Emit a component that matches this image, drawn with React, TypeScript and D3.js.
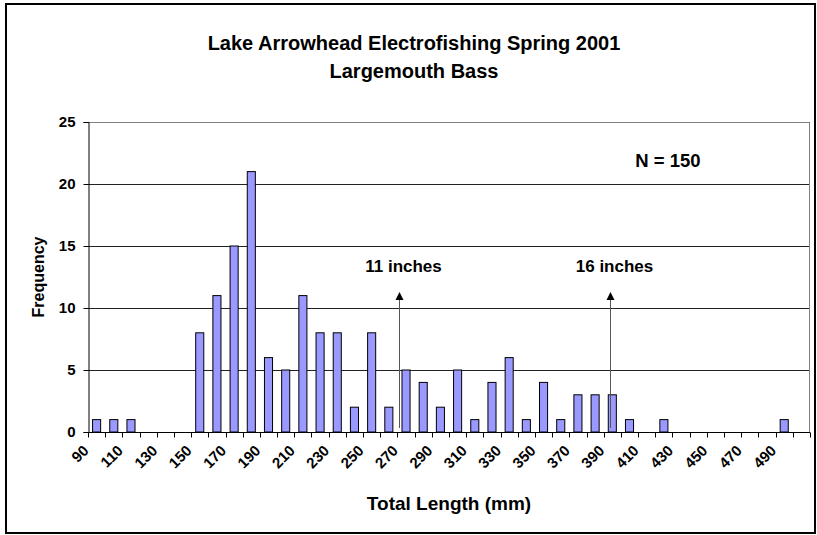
import React, { useRef, useEffect } from 'react';
import * as d3 from 'd3';

// histogram bins (mm) and counts
const lengths = [
  90, 100, 110, 120, 130, 140, 150, 160, 170, 180, 190, 200, 210, 220,
  230, 240, 250, 260, 270, 280, 290, 300, 310, 320, 330, 340, 350, 360,
  370, 380, 390, 400, 410, 420, 430, 440, 450, 460, 470, 480, 490, 500,
];
const counts = [
  1, 1, 1, 0, 0, 0, 8, 11, 15, 21, 6, 5, 11, 8,
  8, 2, 8, 2, 5, 4, 2, 5, 1, 4, 6, 1, 4, 1,
  3, 3, 3, 1, 0, 1, 0, 0, 0, 0, 0, 0, 1, 0,
];
const yTicks = [0, 5, 10, 15, 20, 25];
const markerLabels = ['11 inches', '16 inches'];
const markerMm = [271, 393.5];

const W = 817;
const H = 535;
const FONT = 'Liberation Sans, Arial, sans-serif';

const App = () => {
  const ref = useRef<SVGSVGElement>(null);

  useEffect(() => {
    const svg = d3.select(ref.current);
    svg.selectAll('*').remove();

    const margin = { top: 122, right: 7, bottom: 103, left: 88 };
    const x0 = margin.left;
    const x1 = W - margin.right;
    const y0 = H - margin.bottom;
    const y1 = margin.top;

    // chart frame
    svg.append('rect')
      .attr('x', 6).attr('y', 4)
      .attr('width', 809).attr('height', 529)
      .attr('fill', '#fff').attr('stroke', '#000').attr('stroke-width', 2);

    const xScale = d3.scaleBand<number>().domain(lengths).range([x0, x1]).padding(0);
    const xLin = d3.scaleLinear().domain([lengths[0], lengths[lengths.length - 1] + 10]).range([x0, x1]);
    const yScale = d3.scaleLinear().domain([0, 25]).range([y0, y1]);

    // gridlines
    svg.append('g')
      .selectAll('line')
      .data(yTicks.filter(d => d > 0))
      .enter().append('line')
      .attr('x1', x0).attr('x2', x1)
      .attr('y1', d => Math.round(yScale(d)) + 0.5)
      .attr('y2', d => Math.round(yScale(d)) + 0.5)
      .attr('stroke', '#222').attr('stroke-width', 1);

    // plot area border (right/top)
    svg.append('path')
      .attr('d', `M${x0},${Math.round(y1) + 0.5}H${x1 - 0.5}V${y0}`)
      .attr('fill', 'none').attr('stroke', '#808080').attr('stroke-width', 1);

    // bars
    const bw = xScale.bandwidth() * 0.47;
    svg.append('g')
      .selectAll('rect')
      .data(lengths.map((l, i) => ({ l, c: counts[i] })).filter(d => d.c > 0))
      .enter().append('rect')
      .attr('x', d => xScale(d.l)! + xScale.bandwidth() / 2 - bw / 2)
      .attr('y', d => yScale(d.c))
      .attr('width', bw)
      .attr('height', d => y0 - yScale(d.c))
      .attr('fill', '#9999FF')
      .attr('stroke', '#000').attr('stroke-width', 1);

    // y axis
    const yAxis = svg.append('g').attr('transform', `translate(${x0 + 0.5},0)`)
      .call(d3.axisLeft(yScale).tickValues(yTicks).tickSize(5).tickPadding(8).tickFormat(d3.format('d')));
    yAxis.select('.domain').attr('stroke', '#000');
    yAxis.selectAll('line').attr('stroke', '#000');
    yAxis.selectAll('text')
      .attr('font-family', FONT).attr('font-size', 15).attr('font-weight', 'bold').attr('fill', '#000');

    // x axis: ticks at bin boundaries
    const xg = svg.append('g').attr('transform', `translate(0,${y0 + 0.5})`);
    xg.append('line').attr('x1', x0).attr('x2', x1).attr('stroke', '#000');
    xg.selectAll('line.tk')
      .data(lengths.concat([lengths[lengths.length - 1] + 10]))
      .enter().append('line').attr('class', 'tk')
      .attr('x1', d => Math.round(xLin(d)) + 0.5)
      .attr('x2', d => Math.round(xLin(d)) + 0.5)
      .attr('y1', 0).attr('y2', 5).attr('stroke', '#000');
    xg.selectAll('text')
      .data(lengths.filter((d, i) => i % 2 === 0))
      .enter().append('text')
      .attr('transform', d => `translate(${xScale(d)! + xScale.bandwidth() / 2 - 7},19) rotate(-45)`)
      .attr('text-anchor', 'end')
      .attr('font-family', FONT).attr('font-size', 15).attr('font-weight', 'bold')
      .text(d => d);

    // markers with arrows
    markerLabels.forEach((lab, i) => {
      const mx = Math.round(xLin(markerMm[i])) + 0.5;
      svg.append('line')
        .attr('x1', mx).attr('x2', mx)
        .attr('y1', y0 - 4).attr('y2', 298)
        .attr('stroke', '#555').attr('stroke-width', 1);
      svg.append('path')
        .attr('d', `M${mx},292L${mx - 4},300L${mx + 4},300Z`)
        .attr('fill', '#000');
      svg.append('text')
        .attr('x', mx + 4).attr('y', 272)
        .attr('text-anchor', 'middle')
        .attr('font-family', FONT).attr('font-size', 17).attr('font-weight', 'bold')
        .text(lab);
    });

    svg.append('text')
      .attr('x', 668).attr('y', 167)
      .attr('text-anchor', 'middle')
      .attr('font-family', FONT).attr('font-size', 18.5).attr('font-weight', 'bold')
      .text('N = 150');

    // titles
    const title = svg.append('text')
      .attr('text-anchor', 'middle')
      .attr('font-family', FONT).attr('font-size', 20).attr('font-weight', 'bold');
    title.append('tspan').attr('x', 414).attr('y', 50).text('Lake Arrowhead Electrofishing Spring 2001');
    title.append('tspan').attr('x', 414).attr('y', 78).text('Largemouth Bass');

    svg.append('text')
      .attr('x', (x0 + x1) / 2).attr('y', 510)
      .attr('text-anchor', 'middle')
      .attr('font-family', FONT).attr('font-size', 19).attr('font-weight', 'bold')
      .text('Total Length (mm)');

    svg.append('text')
      .attr('transform', `translate(44,${(y0 + y1) / 2}) rotate(-90)`)
      .attr('text-anchor', 'middle')
      .attr('font-family', FONT).attr('font-size', 16).attr('font-weight', 'bold')
      .text('Frequency');
  }, []);

  return (
    <svg ref={ref} width={W} height={H}
      style={{ position: 'absolute', left: 0, top: 0, background: '#fff' }} />
  );
};

export default App;
